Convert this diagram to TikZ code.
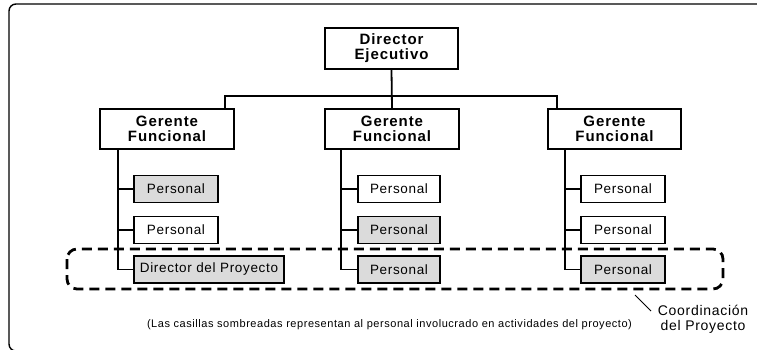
\documentclass[tikz,border=0pt]{standalone}
\usepackage{fontspec}
\setmainfont{Liberation Sans}
\begin{document}
\begin{tikzpicture}[x=1pt, y=-1pt,
    box/.style={draw, line width=1.8pt, inner sep=0pt, minimum height=27pt,
      font=\fontsize{13.5}{13.5}\selectfont\addfontfeature{LetterSpace=5}},
    shaded/.style={box, fill=black!14},
    chief/.style={draw, line width=1.8pt, inner sep=0pt, minimum height=40pt,
      align=center, font=\fontsize{15}{15}\selectfont\bfseries\addfontfeature{LetterSpace=6}},
    link/.style={line width=1.8pt}]
    \useasboundingbox (0,0) rectangle (757,350);
    \clip (0,0) rectangle (757,350);
    % frame
    \draw[line width=1.4pt, rounded corners=7pt] (9,4) rectangle (800,351);
    % director and managers
    \node[chief, minimum width=133pt, minimum height=41pt] (dir) at (391.5,48.5) {Director\\Ejecutivo};
    \node[chief, minimum width=134pt] (gerA) at (167,129) {Gerente\\Funcional};
    \node[chief, minimum width=134pt] (gerB) at (392,129) {Gerente\\Funcional};
    \node[chief, minimum width=133pt] (gerC) at (614.5,129) {Gerente\\Funcional};
    \coordinate (busA) at (225,96);
    \coordinate (busC) at (557,96);
    \draw[link] (dir.south) -- (gerB.north);
    \draw[link] (gerA.north -| busA) -- (busA) -- (busC) -- (gerC.north -| busC);
    % column 1
    \node[shaded, minimum width=84pt] (pA1) at (176,189) {Personal};
    \node[box, minimum width=84pt] (pA2) at (176,230) {Personal};
    \node[shaded, minimum width=150pt] (pA3) at (209,269.5) {Director del Proyecto};
    \coordinate (spA) at (118,149);
    \draw[link] (spA) -- (spA |- pA3.west) -- (pA3.west);
    \draw[link] (spA |- pA1.west) -- (pA1.west);
    \draw[link] (spA |- pA2.west) -- (pA2.west);
    % column 2
    \node[box, minimum width=82pt] (pB1) at (399,189) {Personal};
    \node[shaded, minimum width=82pt] (pB2) at (399,230) {Personal};
    \node[shaded, minimum width=82pt] (pB3) at (399,269.5) {Personal};
    \coordinate (spB) at (341,149);
    \draw[link] (spB) -- (spB |- pB3.west) -- (pB3.west);
    \draw[link] (spB |- pB1.west) -- (pB1.west);
    \draw[link] (spB |- pB2.west) -- (pB2.west);
    % column 3
    \node[box, minimum width=84pt] (pC1) at (623,189) {Personal};
    \node[box, minimum width=84pt] (pC2) at (623,230) {Personal};
    \node[shaded, minimum width=84pt] (pC3) at (623,269.5) {Personal};
    \coordinate (spC) at (565,149);
    \draw[link] (spC) -- (spC |- pC3.west) -- (pC3.west);
    \draw[link] (spC |- pC1.west) -- (pC1.west);
    \draw[link] (spC |- pC2.west) -- (pC2.west);
    % project coordination
    \draw[line width=2.8pt, dash pattern=on 10pt off 6pt, rounded corners=10pt] (67,249) rectangle (723,289);
    \node[align=center, font=\fontsize{14}{15}\selectfont\addfontfeature{LetterSpace=5}] (coord) at (703,319) {Coordinación\\del Proyecto};
    \coordinate (tip) at (635,295);
    \draw[line width=1pt] (tip) -- (651,311);
    \node[font=\fontsize{11}{11}\selectfont\addfontfeature{LetterSpace=5}] (note) at (389.5,325)
      {(Las casillas sombreadas representan al personal involucrado en actividades del proyecto)};
\end{tikzpicture}
\end{document}
